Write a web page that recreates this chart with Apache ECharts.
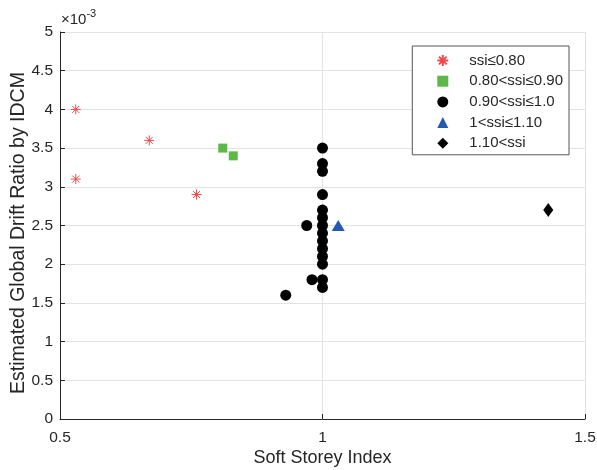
<!DOCTYPE html>
<html>
<head>
<meta charset="utf-8">
<script src="https://cdn.jsdelivr.net/npm/echarts@6/dist/echarts.min.js"></script>
<style>html,body{margin:0;padding:0;background:#fff}#c{width:597px;height:470px}</style>
</head>
<body>
<div id="c"></div>
<script>
// values of drift ratio are in units of 1e-3
const seriesNames = ['ssi≤0.80', '0.80<ssi≤0.90', '0.90<ssi≤1.0', '1<ssi≤1.10', '1.10<ssi'];
const ssiLow = [0.53, 0.53, 0.67, 0.76];
const driftLow = [4.0, 3.1, 3.6, 2.9];
const ssiMid = [0.81, 0.83];
const driftMid = [3.5, 3.4];
const ssiNear = [1, 1, 1, 1, 1, 1, 1, 1, 1, 1, 1, 1, 1, 1, 0.97, 0.98, 0.93];
const driftNear = [3.5, 3.3, 3.2, 2.9, 2.7, 2.6, 2.5, 2.4, 2.3, 2.2, 2.1, 2.0, 1.8, 1.7, 2.5, 1.8, 1.6];
const ssiHigh = [1.03];
const driftHigh = [2.5];
const ssiTop = [1.43];
const driftTop = [2.7];
const xTicks = [0.5, 1, 1.5];
const yTicks = [0, 0.5, 1, 1.5, 2, 2.5, 3, 3.5, 4, 4.5, 5];
const xTitle = 'Soft Storey Index';
const yTitle = 'Estimated Global Drift Ratio by IDCM';

const zip = (a, b) => a.map((v, i) => [v, b[i]]);
const starPath = 'path://M0,-5L0,5M-5,0L5,0M-3.5,-3.5L3.5,3.5M-3.5,3.5L3.5,-3.5';
const font = 'Liberation Sans, Arial, Helvetica, sans-serif';
const ink = '#262626';
const chart = echarts.init(document.getElementById('c'), null, {renderer: 'canvas'});
chart.setOption({
  animation: false,
  backgroundColor: '#fff',
  grid: {left: 60, top: 32, right: 12, bottom: 51, containLabel: false, outerBoundsMode: 'none'},
  xAxis: {
    type: 'value', min: 0.5, max: 1.5, interval: 0.5,
    name: xTitle, nameLocation: 'middle', nameGap: 30, nameMoveOverlap: false,
    nameTextStyle: {fontFamily: font, fontSize: 18, color: ink},
    axisLine: {lineStyle: {color: ink}},
    axisTick: {inside: true, length: 5, lineStyle: {color: ink}},
    axisLabel: {fontFamily: font, fontSize: 15.5, color: ink, margin: 11,
      formatter: v => xTicks.includes(v) ? String(v) : ''},
    splitLine: {show: true, lineStyle: {color: '#e3e3e3'}}
  },
  yAxis: {
    type: 'value', min: 0, max: 5, interval: 0.5,
    axisLine: {show: true, lineStyle: {color: ink}},
    axisTick: {show: true, inside: true, length: 5, lineStyle: {color: ink}},
    axisLabel: {fontFamily: font, fontSize: 15.5, color: ink, margin: 7,
      formatter: v => yTicks.includes(v) ? String(v) : ''},
    splitLine: {show: true, lineStyle: {color: '#e3e3e3'}}
  },
  legend: {
    orient: 'vertical', right: 28, top: 46,
    backgroundColor: '#fff', borderColor: '#555', borderWidth: 1,
    padding: [7, 6, 4, 24], itemGap: 5.7, itemWidth: 11, itemHeight: 11,
    textStyle: {fontFamily: font, fontSize: 15, color: ink, lineHeight: 14, padding: [0, 0, 0, 16]},
    data: seriesNames.map(n => ({name: n}))
  },
  series: [
    {name: seriesNames[0], type: 'scatter', data: zip(ssiLow, driftLow),
      symbol: starPath, symbolSize: 10,
      itemStyle: {color: 'rgba(0,0,0,0)', borderColor: '#f24848', borderWidth: 1, opacity: 1}},
    {name: seriesNames[1], type: 'scatter', data: zip(ssiMid, driftMid),
      symbol: 'rect', symbolSize: 9, itemStyle: {color: '#5cb947', opacity: 1}},
    {name: seriesNames[2], type: 'scatter', data: zip(ssiNear, driftNear),
      symbol: 'circle', symbolSize: 11, itemStyle: {color: '#000', opacity: 1}},
    {name: seriesNames[3], type: 'scatter', data: zip(ssiHigh, driftHigh),
      symbol: 'triangle', symbolSize: [13, 11], itemStyle: {color: '#2459b0', opacity: 1}},
    {name: seriesNames[4], type: 'scatter', data: zip(ssiTop, driftTop),
      symbol: 'diamond', symbolSize: [10, 14], itemStyle: {color: '#000', opacity: 1}}
  ],
  graphic: [{
    type: 'text', left: 61, top: 8,
    style: {
      text: '{a|×10}{b|-3}',
      rich: {
        a: {fontFamily: font, fontSize: 15, fill: ink, verticalAlign: 'bottom'},
        b: {fontFamily: font, fontSize: 11, fill: ink, verticalAlign: 'top', padding: [0, 0, 8, 0]}
      }
    }
  }, {
    type: 'text', x: 19, y: 233, rotation: Math.PI / 2,
    style: {text: yTitle, fontFamily: font, fontSize: 19.5, fill: ink, align: 'center', verticalAlign: 'middle'}
  }]
});
</script>
</body>
</html>
